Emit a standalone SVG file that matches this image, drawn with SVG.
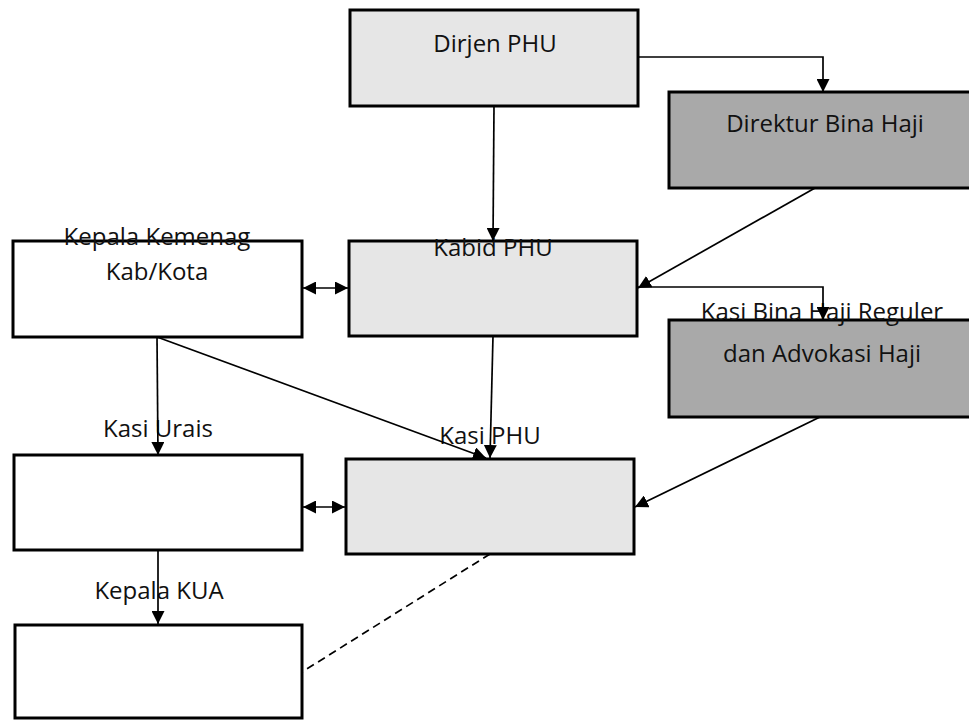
<svg xmlns="http://www.w3.org/2000/svg" width="969" height="720" viewBox="0 0 969 720">
<defs>
<marker id="ah" markerUnits="userSpaceOnUse" markerWidth="13" markerHeight="13" viewBox="0 0 13 13" refX="13" refY="6.5" orient="auto-start-reverse">
<path d="M0,0 L13,6.5 L0,13 z" fill="#000"/>
</marker>
<style>
.box{stroke:#000;stroke-width:3}
.lg{fill:#e6e6e6}
.dg{fill:#a9a9a9}
.wh{fill:#fff}
.t{font-family:"Open Sans","Noto Sans",sans-serif;font-size:24px;fill:#111;text-anchor:middle}
.c{fill:none;stroke:#000;stroke-width:1.7}
</style>
</defs>
<rect width="969" height="720" fill="#fff"/>
<g id="dirjen"><rect class="box lg" x="350" y="10" width="288" height="96"/><text class="t" x="495" y="52">Dirjen PHU</text></g>
<g id="direktur"><rect class="box dg" x="669" y="92" width="310" height="96"/><text class="t" x="825" y="132">Direktur Bina Haji</text></g>
<g id="kemenag"><rect class="box wh" x="13" y="241" width="289" height="96"/><text class="t" x="157" y="245">Kepala Kemenag</text><text class="t" x="157" y="280">Kab/Kota</text></g>
<g id="kabid"><rect class="box lg" x="349" y="241" width="288" height="95"/><text class="t" x="493" y="256">Kabid PHU</text></g>
<g id="kasibina"><rect class="box dg" x="669" y="320" width="310" height="97"/><text class="t" x="822" y="320">Kasi Bina Haji Reguler</text><text class="t" x="822" y="362">dan Advokasi Haji</text></g>
<g id="urais"><rect class="box wh" x="14" y="455" width="288" height="95"/><text class="t" x="158" y="437">Kasi Urais</text></g>
<g id="kasiphu"><rect class="box lg" x="346" y="459" width="288" height="95"/><text class="t" x="490" y="444">Kasi PHU</text></g>
<g id="kua"><rect class="box wh" x="15" y="625" width="287" height="93"/><text class="t" x="159" y="599">Kepala KUA</text></g>
<g id="connectors">
<path class="c" d="M638,57 H823 V92" marker-end="url(#ah)"/>
<path class="c" d="M494,106 L493,241" marker-end="url(#ah)"/>
<path class="c" d="M815,188 L638,288" marker-end="url(#ah)"/>
<path class="c" d="M637,287 H823 V320" marker-end="url(#ah)"/>
<path class="c" d="M303,288 H348" marker-start="url(#ah)" marker-end="url(#ah)"/>
<path class="c" d="M493,336 L490,458" marker-end="url(#ah)"/>
<path class="c" d="M157,337 L486,458" marker-end="url(#ah)"/>
<path class="c" d="M157,337 L158,455" marker-end="url(#ah)"/>
<path class="c" d="M303,507 H345" marker-start="url(#ah)" marker-end="url(#ah)"/>
<path class="c" d="M820,417 L635,507" marker-end="url(#ah)"/>
<path class="c" d="M158,550 L158,624" marker-end="url(#ah)"/>
<path class="c" d="M490,554 L302,672" stroke-dasharray="8,5" stroke-width="2.6"/>
</g>
</svg>
